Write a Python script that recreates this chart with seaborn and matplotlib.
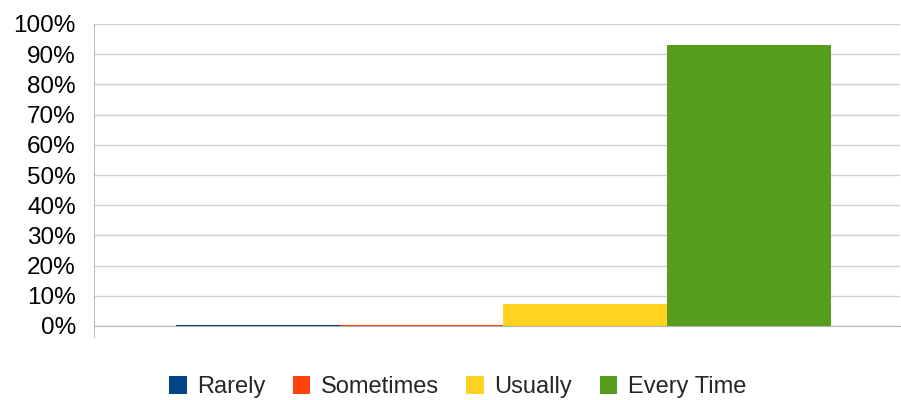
import pandas as pd
import matplotlib
matplotlib.use("Agg")
import matplotlib.pyplot as plt
import seaborn as sns
from matplotlib.ticker import PercentFormatter

responses = ["Rarely", "Sometimes", "Usually", "Every Time"]
shares = [0.3, 0.3, 7.3, 93.0]
colors = ["#004586", "#ff420e", "#ffd320", "#579d1c"]

df = pd.DataFrame({"group": [""] * len(responses),
                   "response": responses,
                   "share": shares})

sns.set_style("white")
plt.rcParams["font.family"] = ["Liberation Sans", "DejaVu Sans"]

fig = plt.figure(figsize=(9.01, 4), dpi=100)
ax = fig.add_axes([94 / 901, 74 / 400, 806 / 901, 302 / 400])

sns.barplot(data=df, x="group", y="share", hue="response",
            hue_order=responses, palette=colors, width=0.8127,
            saturation=1, linewidth=0, ax=ax, legend=True, zorder=3)

ax.set_xlim(-0.508, 0.492)
ax.set_ylim(0, 100)
ax.set_yticks(range(0, 101, 10))
ax.yaxis.set_major_formatter(PercentFormatter(decimals=0))
ax.set_xlabel("")
ax.set_ylabel("")
ax.set_xticks([])
ax.tick_params(axis="y", labelsize=17.5, length=12, color="#c8c8c8",
               colors="#000000", pad=1)
ax.grid(axis="y", color="#d0d0d0", linewidth=1)
ax.set_axisbelow(True)

for side in ["top", "right"]:
    ax.spines[side].set_visible(False)
ax.spines["left"].set_color("#c0c0c0")
ax.spines["left"].set_bounds(-3.6, 100)
ax.spines["bottom"].set_color("#b3b3b3")

ax.legend(loc="upper center", bbox_to_anchor=(0.451, -0.096), ncol=4,
          frameon=False, fontsize=17, handlelength=0.75, handleheight=0.75,
          handletextpad=0.45, columnspacing=1.15)

fig.savefig("out.png", dpi=100)
